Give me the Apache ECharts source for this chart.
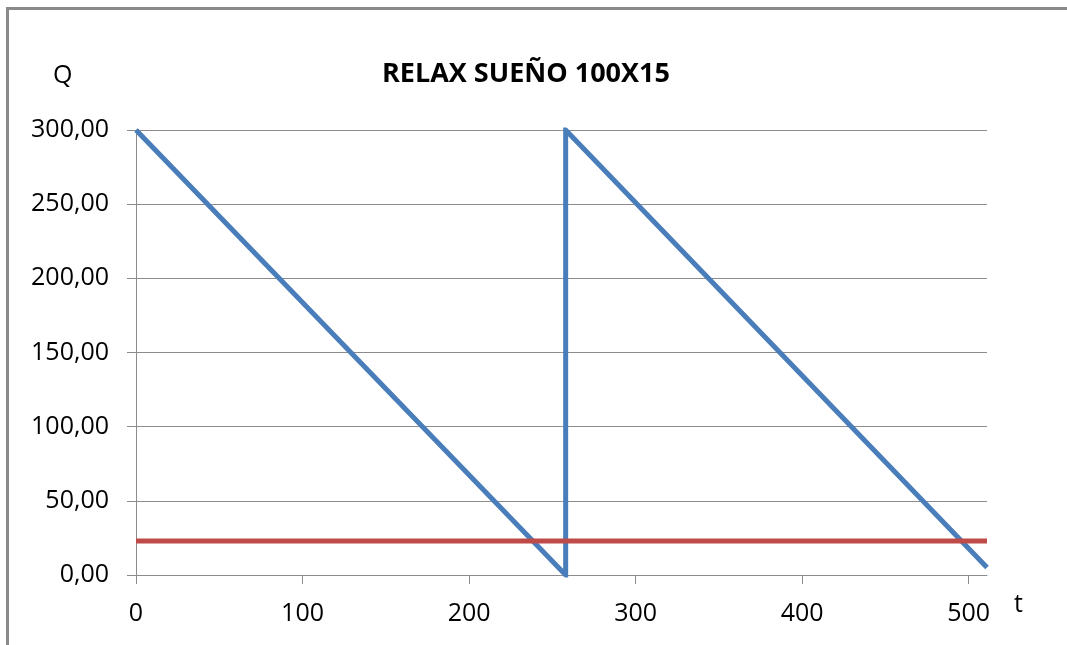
<!DOCTYPE html>
<html>
<head>
<meta charset="utf-8">
<title>RELAX SUEÑO 100X15</title>
<script src="https://cdn.jsdelivr.net/npm/echarts@6/dist/echarts.min.js"></script>
<style>
  html, body { margin: 0; padding: 0; background: #ffffff; }
  #chart { width: 1067px; height: 645px; }
</style>
</head>
<body>
<div id="chart"></div>
<script>
// Inventory level Q over time t (sawtooth) and the reorder level
const inventoryT = [0, 258, 258, 511];
const inventoryQ = [300, 0, 300, 5];
const reorderT = [0, 511];
const reorderQ = [23, 23];
const xTickValues = [0, 100, 200, 300, 400, 500];

const FONT = '"Open Sans", "Noto Sans", sans-serif';
const GRID_COLOR = '#8c8c8c';

const chart = echarts.init(document.getElementById('chart'), null, { renderer: 'canvas' });

const zip = (xs, ys) => xs.map((x, i) => [x, ys[i]]);

chart.setOption({
  animation: false,
  backgroundColor: '#ffffff',
  textStyle: { fontFamily: FONT },
  grid: { left: 136, right: 80, top: 130, bottom: 70, containLabel: false },
  graphic: [
    // chart frame (left and top edges)
    { type: 'line', shape: { x1: 7.5, y1: 8, x2: 7.5, y2: 645 }, style: { stroke: '#8a8a8a', lineWidth: 3 } },
    { type: 'line', shape: { x1: 6, y1: 8.5, x2: 1067, y2: 8.5 }, style: { stroke: '#8a8a8a', lineWidth: 3 } },
    { type: 'text', left: 53, top: 63, style: { text: 'Q', font: '25px ' + FONT, fill: '#000' } },
    { type: 'text', left: 1014, top: 592, style: { text: 't', font: '25px ' + FONT, fill: '#000' } }
  ],
  title: {
    text: 'RELAX SUEÑO 100X15',
    left: 377,
    top: 56,
    textStyle: { fontFamily: FONT, fontWeight: 'bold', fontSize: 27, color: '#000' }
  },
  xAxis: {
    type: 'value',
    min: 0,
    max: 511,
    interval: 100,
    axisLine: { show: true, lineStyle: { color: GRID_COLOR, width: 1 } },
    axisTick: { show: true, length: 9, inside: false, customValues: xTickValues, lineStyle: { color: GRID_COLOR } },
    axisLabel: { customValues: xTickValues, margin: 26, fontSize: 25, color: '#000', fontFamily: FONT },
    splitLine: { show: false }
  },
  yAxis: {
    type: 'value',
    min: 0,
    max: 300,
    interval: 50,
    axisLine: { show: true, lineStyle: { color: GRID_COLOR, width: 1 } },
    axisTick: { show: true, length: 9, inside: false, lineStyle: { color: GRID_COLOR } },
    axisLabel: {
      margin: 27,
      fontSize: 25,
      color: '#000',
      fontFamily: FONT,
      formatter: v => v.toFixed(2).replace('.', ',')
    },
    splitLine: { show: true, lineStyle: { color: GRID_COLOR, width: 1 } }
  },
  series: [
    {
      name: 'Q',
      type: 'line',
      data: zip(inventoryT, inventoryQ),
      showSymbol: false,
      lineStyle: { color: '#4a7ebb', width: 5, cap: 'butt', join: 'miter' },
      z: 3
    },
    {
      name: 'Reorder',
      type: 'line',
      data: zip(reorderT, reorderQ),
      showSymbol: false,
      lineStyle: { color: '#be4b48', width: 5, cap: 'butt' },
      z: 4
    }
  ]
});
</script>
</body>
</html>
